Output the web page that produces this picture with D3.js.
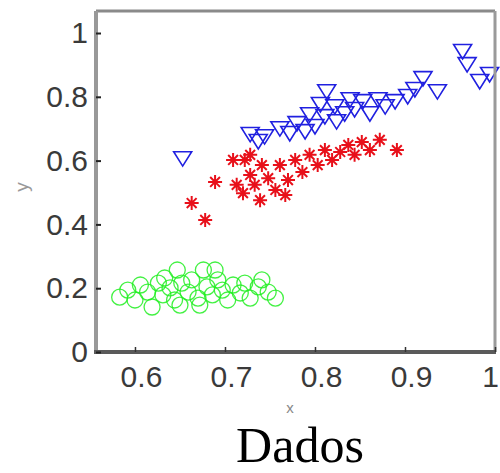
<!DOCTYPE html>
<html>
<head>
<meta charset="utf-8">
<script src="https://cdn.jsdelivr.net/npm/d3@7"></script>
<style>
  html, body { margin: 0; padding: 0; background: #fff; }
  svg { display: block; }
</style>
</head>
<body>
<svg id="chart" width="500" height="473"></svg>
<script>
// ---- data ----
const xTicks = [0.6, 0.7, 0.8, 0.9, 1];
const yTicks = [0, 0.2, 0.4, 0.6, 0.8, 1];
const xTickLabels = ["0.6", "0.7", "0.8", "0.9", "1"];
const yTickLabels = ["0", "0.2", "0.4", "0.6", "0.8", "1"];

const greenX = [0.583,0.592,0.600,0.606,0.614,0.619,0.626,0.631,0.639,0.644,0.647,0.652,0.659,0.663,0.670,0.676,0.680,0.686,0.692,0.697,0.703,0.709,0.717,0.722,0.728,0.737,0.741,0.748,0.756,0.650,0.672,0.633,0.689];
const greenY = [0.172,0.194,0.163,0.210,0.188,0.141,0.216,0.179,0.201,0.163,0.257,0.216,0.188,0.226,0.169,0.257,0.204,0.179,0.226,0.194,0.163,0.210,0.185,0.216,0.169,0.204,0.226,0.188,0.169,0.147,0.147,0.232,0.257];

const redX = [0.663,0.678,0.689,0.709,0.713,0.720,0.722,0.728,0.733,0.739,0.741,0.748,0.756,0.761,0.770,0.778,0.786,0.794,0.803,0.811,0.819,0.828,0.837,0.844,0.852,0.861,0.872,0.891,0.728,0.767];
const redY = [0.467,0.414,0.533,0.602,0.524,0.498,0.602,0.555,0.524,0.476,0.586,0.545,0.508,0.586,0.539,0.602,0.564,0.618,0.586,0.633,0.602,0.627,0.649,0.618,0.658,0.633,0.665,0.633,0.618,0.492];

const blueX = [0.653,0.728,0.737,0.744,0.761,0.772,0.780,0.789,0.794,0.800,0.806,0.811,0.813,0.822,0.824,0.833,0.839,0.844,0.853,0.861,0.870,0.878,0.889,0.903,0.911,0.920,0.936,0.964,0.969,0.983,0.994];
const blueY = [0.611,0.687,0.665,0.680,0.705,0.690,0.721,0.696,0.749,0.712,0.781,0.743,0.821,0.774,0.727,0.752,0.796,0.765,0.790,0.752,0.796,0.774,0.790,0.806,0.828,0.862,0.821,0.947,0.906,0.853,0.875];

const titleText = "Dados";
const xLabel = "x";
const yLabel = "y";

// ---- layout ----
const svg = d3.select("#chart");
const L = 96, R = 495, T = 11, B = 352;
const x = d3.scaleLinear().domain([0.5567, 1.0]).range([L, R]);
const y = d3.scaleLinear().domain([0, 1.069]).range([B, T]);

const plot = svg.append("g");

// green circles
plot.selectAll("circle.g").data(greenX.map((v, i) => [v, greenY[i]]))
  .enter().append("circle")
  .attr("cx", d => x(d[0])).attr("cy", d => y(d[1])).attr("r", 8)
  .attr("fill", "none").attr("stroke", "#22ee22").attr("stroke-width", 1.3).attr("stroke-opacity", 0.85);

// red asterisks
const star = s => `M${-s},0L${s},0M0,${-s}L0,${s}M${-s*0.7},${-s*0.7}L${s*0.7},${s*0.7}M${-s*0.7},${s*0.7}L${s*0.7},${-s*0.7}`;
plot.selectAll("path.r").data(redX.map((v, i) => [v, redY[i]]))
  .enter().append("path")
  .attr("transform", d => `translate(${x(d[0])},${y(d[1])})`)
  .attr("d", star(7))
  .attr("fill", "none").attr("stroke", "#e8101a").attr("stroke-width", 2);

// blue down-triangles
const tri = s => `M${-s},${-s*0.6}L${s},${-s*0.6}L0,${s*1.0}Z`;
plot.selectAll("path.b").data(blueX.map((v, i) => [v, blueY[i]]))
  .enter().append("path")
  .attr("transform", d => `translate(${x(d[0])},${y(d[1])})`)
  .attr("d", tri(9))
  .attr("fill", "none").attr("stroke", "#2020e0").attr("stroke-width", 1.6);

// box
svg.append("line").attr("x1", L).attr("x2", R).attr("y1", T).attr("y2", T).attr("stroke", "#8a8a8a").attr("stroke-width", 3);
svg.append("line").attr("x1", R).attr("x2", R).attr("y1", T).attr("y2", B).attr("stroke", "#9a9a9a").attr("stroke-width", 3);
svg.append("line").attr("x1", L).attr("x2", L).attr("y1", T).attr("y2", B).attr("stroke", "#999").attr("stroke-width", 4);
svg.append("line").attr("x1", L - 2).attr("x2", R + 1).attr("y1", B).attr("y2", B).attr("stroke", "#5a5a5a").attr("stroke-width", 4);

// axes via d3 axis generators (inward ticks)
const xAxis = d3.axisBottom(x).tickValues(xTicks).tickSize(-5).tickPadding(14)
  .tickFormat((d, i) => xTickLabels[i]);
const gx = svg.append("g").attr("transform", `translate(0,${B})`).call(xAxis);
gx.select(".domain").remove();
gx.selectAll(".tick line").attr("stroke", "#333").attr("stroke-width", 1.5);
gx.selectAll(".tick text").attr("font-family", "Liberation Sans, Arial, sans-serif")
  .attr("font-size", 30).attr("fill", "#3a3a3a").attr("dx", (d, i) => i === xTicks.length - 1 ? -5 : 6);

const yAxis = d3.axisLeft(y).tickValues(yTicks).tickSize(-5).tickPadding(8)
  .tickFormat((d, i) => yTickLabels[i]);
const gy = svg.append("g").attr("transform", `translate(${L},0)`).call(yAxis);
gy.select(".domain").remove();
gy.selectAll(".tick line").attr("stroke", "#222").attr("stroke-width", 2);
gy.selectAll(".tick text").attr("font-family", "Liberation Sans, Arial, sans-serif")
  .attr("font-size", 30).attr("fill", "#3a3a3a");

// axis labels
svg.append("text").attr("x", 290).attr("y", 413).attr("text-anchor", "middle")
  .attr("font-family", "Liberation Sans, Arial, sans-serif").attr("font-size", 15).attr("fill", "#888")
  .text(xLabel);
svg.append("text").attr("transform", "translate(28,187) rotate(-90)").attr("text-anchor", "middle")
  .attr("font-family", "Liberation Sans, Arial, sans-serif").attr("font-size", 19).attr("fill", "#999")
  .text(yLabel);

// title
svg.append("text").attr("x", 300).attr("y", 462).attr("text-anchor", "middle")
  .attr("font-family", "Liberation Serif, Times New Roman, serif").attr("font-size", 50).attr("fill", "#000")
  .text(titleText);
</script>
</body>
</html>
